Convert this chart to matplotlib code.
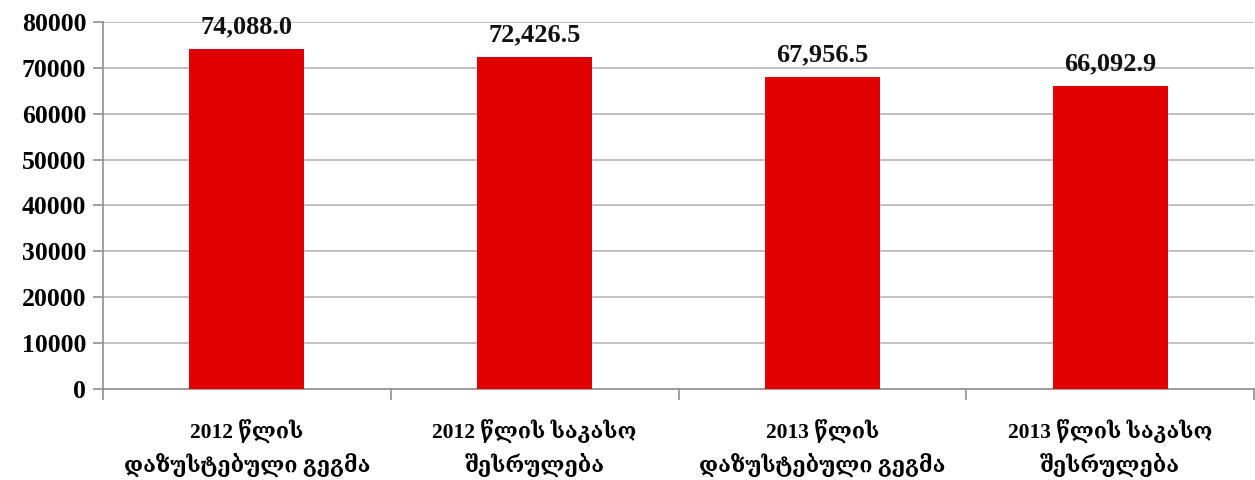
import matplotlib
matplotlib.use("Agg")
import matplotlib.pyplot as plt
import numpy as np

categories = ["2012 წლის\nდაზუსტებული გეგმა", "2012 წლის საკასო\nშესრულება",
              "2013 წლის\nდაზუსტებული გეგმა", "2013 წლის საკასო\nშესრულება"]
values = [74088.0, 72426.5, 67956.5, 66092.9]
yticks = [0, 10000, 20000, 30000, 40000, 50000, 60000, 70000, 80000]

fam = ["Liberation Serif", "DejaVu Serif"]
fig = plt.figure(figsize=(12.55, 4.8), dpi=100)
ax = fig.add_axes([103/1255, 1-389/480, 1-103/1255-1/1255, (389-22)/480])

x = np.arange(len(values))
ax.bar(x, values, width=0.40, color="#e00000", zorder=3)
for xi, v in zip(x, values):
    ax.text(xi, v + 2300, f"{v:,.1f}", ha="center", va="bottom",
            fontsize=19, family=fam, fontweight="semibold", color="#111111")

ax.set_xlim(-0.5, len(values) - 0.5)
ax.set_ylim(0, 80000)
ax.set_yticks(yticks)
ax.set_yticklabels([str(t) for t in yticks], family=fam, fontsize=18.5, fontweight="bold")
ax.yaxis.grid(True, color="#c0c0c0", linewidth=1.4, zorder=0)
ax.set_xticks(np.arange(-0.5, len(values)), minor=False)
ax.set_xticklabels([])
ax.set_xticks(x, minor=True)
ax.set_xticklabels(categories, minor=True, family=fam, fontsize=15.5, fontweight="bold",
                   linespacing=1.5)
ax.tick_params(axis="x", which="minor", length=0, pad=22)
ax.tick_params(axis="x", which="major", length=8, color="#909090", width=1.2)
ax.tick_params(axis="y", length=7, color="#909090", width=1.2, pad=5)
for s in ["top", "right"]:
    ax.spines[s].set_visible(False)
ax.spines["left"].set_color("#909090")
ax.spines["left"].set_linewidth(1.2)
ax.spines["bottom"].set_color("#909090")
ax.spines["bottom"].set_linewidth(1.2)

fig.savefig("out.png", dpi=100)
